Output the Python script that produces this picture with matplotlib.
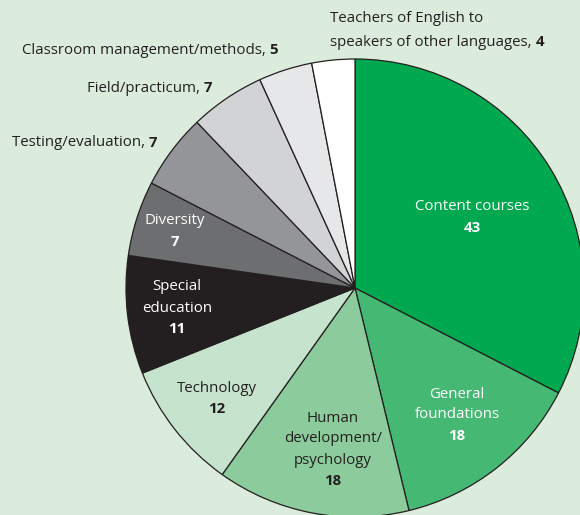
import matplotlib
matplotlib.use("Agg")
import matplotlib.pyplot as plt

categories = ["Content courses", "General foundations", "Human development/psychology",
              "Technology", "Special education", "Diversity", "Testing/evaluation",
              "Field/practicum", "Classroom management/methods",
              "Teachers of English to speakers of other languages"]
values = [43, 18, 18, 12, 11, 7, 7, 7, 5, 4]
colors = ["#00a84f", "#45b873", "#8ccc9c", "#c6e4cd", "#231f20",
          "#6d6e70", "#939598", "#d1d3d4", "#e6e7e8", "#ffffff"]

BG = "#dcecdc"
DARK = "#231f20"
FONT = "Open Sans"
FS = 10.8

fig = plt.figure(figsize=(5.8, 5.15), dpi=100, facecolor=BG)
ax = fig.add_axes([0, 0, 1, 1])
ax.set_facecolor(BG)
ax.set_xlim(0, 580)
ax.set_ylim(0, 515)
ax.set_aspect("equal")
ax.axis("off")

cx, cy, r = 355, 515 - 288, 229
ax.pie(values, colors=colors, startangle=90, counterclock=False,
       center=(cx, cy), radius=r, frame=True,
       wedgeprops=dict(edgecolor=DARK, linewidth=0.9))
ax.set_xlim(0, 580)
ax.set_ylim(0, 515)
ax.axis("off")

def Y(y):
    return 515 - y

# inside labels: (index, name lines, x center, first-line y, text color)
inside = [
    (0, ["Content courses"], 472, 207, "white"),
    (1, ["General", "foundations"], 457, 394, "white"),
    (2, ["Human", "development/", "psychology"], 333, 418, DARK),
    (3, ["Technology"], 217, 388, DARK),
    (4, ["Special", "education"], 177, 287, "white"),
    (5, ["Diversity"], 175, 221, "white"),
]
LS = 21
for idx, lines, x, y0, col in inside:
    for k, ln in enumerate(lines):
        ax.text(x, Y(y0 + k * LS), ln, ha="center", va="center",
                fontsize=FS, family=FONT, color=col)
    ax.text(x, Y(y0 + len(lines) * LS), str(values[idx]), ha="center",
            va="center", fontsize=FS, family=FONT, color=col, fontweight="bold")

# outside labels with bold numbers
def outside_right_aligned(idx, text, x_right, y):
    num = ax.text(x_right, Y(y), str(values[idx]), ha="right", va="center",
                  fontsize=FS, family=FONT, color=DARK, fontweight="bold")
    ax.annotate(text + ", ", xy=(0, 0.5), xycoords=num, ha="right", va="center",
                fontsize=FS, family=FONT, color=DARK)

outside_right_aligned(8, "Classroom management/methods", 278, 50)
outside_right_aligned(7, "Field/practicum", 212, 88)
outside_right_aligned(6, "Testing/evaluation", 157, 143)

ax.text(330, Y(18), "Teachers of English to", ha="left", va="center",
        fontsize=FS, family=FONT, color=DARK)
t = ax.text(330, Y(42), "speakers of other languages, ", ha="left", va="center",
            fontsize=FS, family=FONT, color=DARK)
ax.annotate(str(values[9]), xy=(1, 0.5), xycoords=t, ha="left", va="center",
            fontsize=FS, family=FONT, color=DARK, fontweight="bold")

fig.savefig("out.png", dpi=100, facecolor=BG)
